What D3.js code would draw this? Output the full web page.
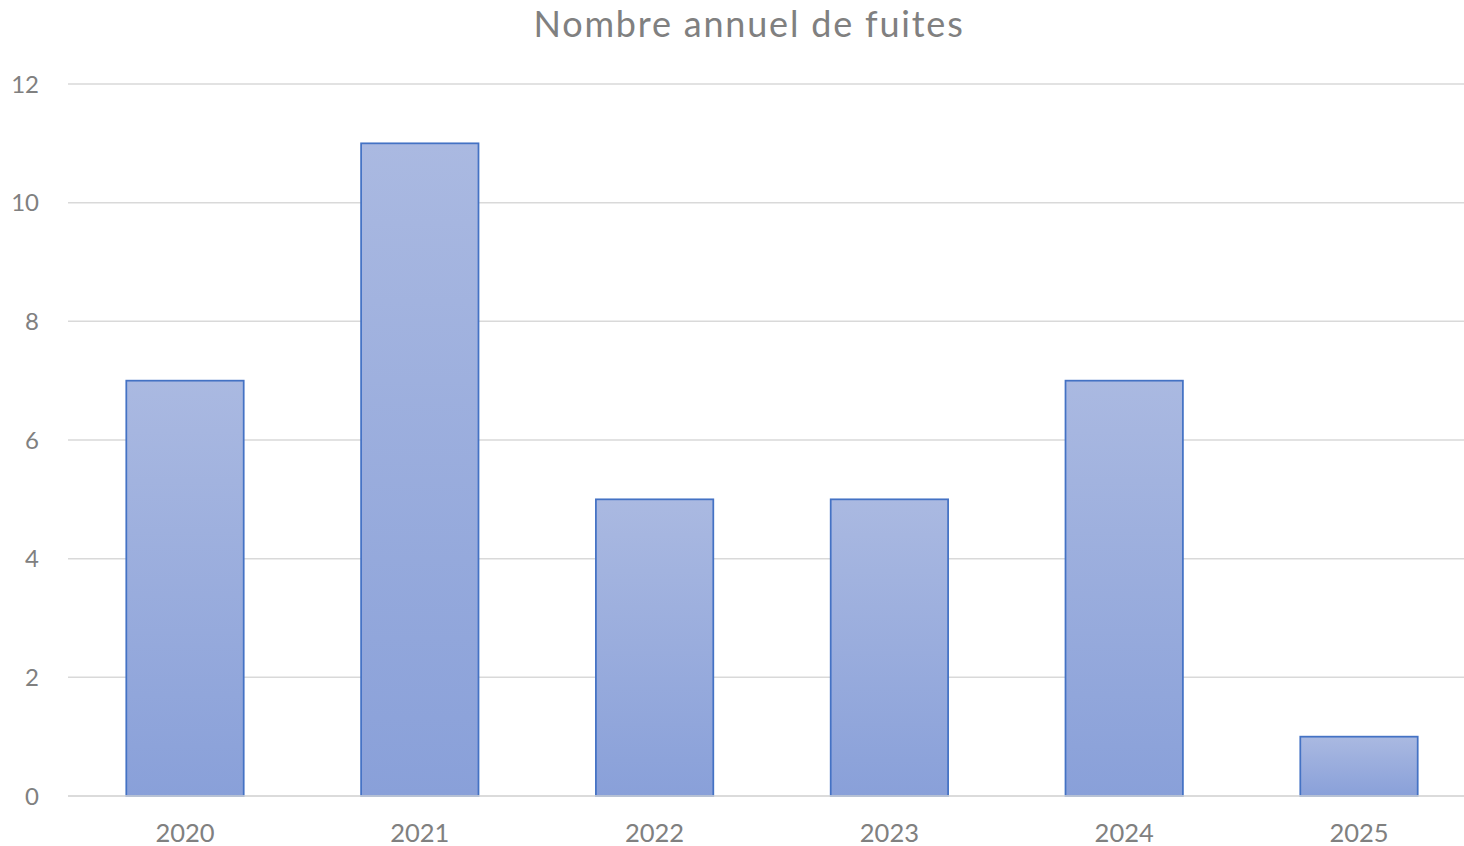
<!DOCTYPE html>
<html><head><meta charset="utf-8">
<script src="https://cdn.jsdelivr.net/npm/d3@7"></script>
<style>html,body{margin:0;padding:0;background:#fff;}svg{display:block;}</style>
</head><body>
<svg id="chart" width="1464" height="846"></svg>
<script>
const years = ["2020","2021","2022","2023","2024","2025"];
const leaks = [7, 11, 5, 5, 7, 1];
const yTicks = [0, 2, 4, 6, 8, 10, 12];
const title = "Nombre annuel de fuites";

const W = 1464, H = 846;
const svg = d3.select("#chart");
const font = "Lato, 'Open Sans', sans-serif";

const defs = svg.append("defs");
const g = defs.append("linearGradient").attr("id","barGrad")
  .attr("x1","0").attr("y1","0").attr("x2","0").attr("y2","1");
g.append("stop").attr("offset","0").attr("stop-color","#aab9e1");
g.append("stop").attr("offset","1").attr("stop-color","#89a0d9");

const x = d3.scaleBand().domain(years).range([67.6, 1476.4]).paddingInner(0.5).paddingOuter(0.25);
const y = d3.scaleLinear().domain([0, 12]).range([796, 84]);

// gridlines
svg.append("g").selectAll("line").data(yTicks).join("line")
  .attr("x1", 68).attr("x2", W)
  .attr("y1", d => y(d)).attr("y2", d => y(d))
  .attr("stroke", "#d9d9d9").attr("stroke-width", 1.5);

// y labels
svg.append("g").selectAll("text").data(yTicks).join("text")
  .attr("x", 39).attr("y", d => y(d)).attr("dy", "0.36em")
  .attr("text-anchor", "end")
  .attr("font-family", font).attr("font-size", 24).attr("fill", "#808080")
  .text(d => d);

// bars
svg.append("g").selectAll("rect").data(years).join("rect")
  .attr("x", d => x(d)).attr("width", x.bandwidth())
  .attr("y", (d,i) => y(leaks[i]))
  .attr("height", (d,i) => y(0) - y(leaks[i]))
  .attr("fill", "url(#barGrad)")
  .attr("stroke", "#4472c4").attr("stroke-width", 1.75);

// baseline
svg.append("line").attr("x1", 68).attr("x2", W).attr("y1", y(0)).attr("y2", y(0))
  .attr("stroke", "#d9d9d9").attr("stroke-width", 1.5);

// x labels
svg.append("g").selectAll("text").data(years).join("text")
  .attr("x", d => x(d) + x.bandwidth()/2).attr("y", 842)
  .attr("text-anchor", "middle")
  .attr("font-family", font).attr("font-size", 25.5).attr("fill", "#808080")
  .text(d => d);

// title
svg.append("text").attr("x", 749).attr("y", 37).attr("text-anchor", "middle")
  .attr("font-family", font).attr("font-size", 36).attr("letter-spacing", 1.8).attr("fill", "#808080")
  .text(title);
</script>
</body></html>
